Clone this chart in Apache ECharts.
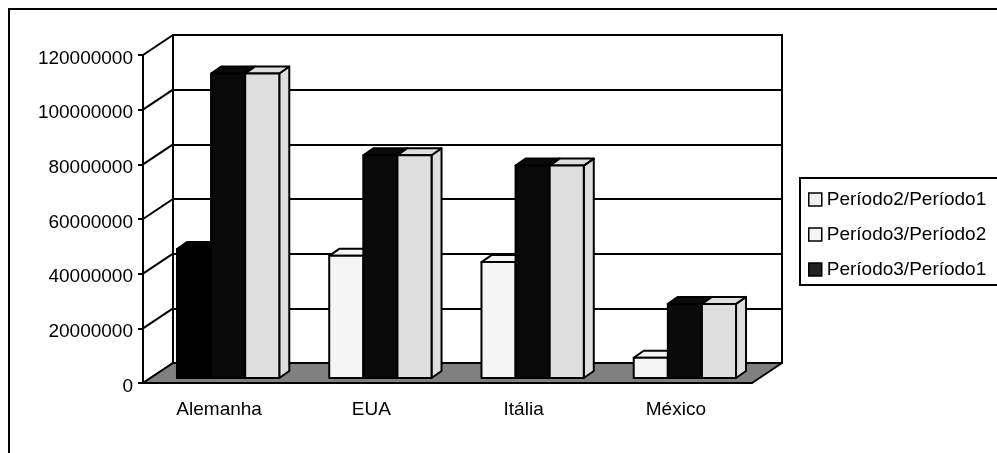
<!DOCTYPE html>
<html>
<head>
<meta charset="utf-8">
<script src="https://cdn.jsdelivr.net/npm/echarts@6/dist/echarts.min.js"></script>
<style>
  html, body { margin: 0; padding: 0; background: #fff; }
  #chart { width: 997px; height: 453px; }
</style>
</head>
<body>
<div id="chart"></div>
<script>
// Categories and values per ratio series
const categories = ['Alemanha', 'EUA', 'Itália', 'México'];
const periodo2_1 = [47200000, 44700000, 42400000, 7400000];
const periodo3_1 = [111400000, 81500000, 77700000, 27100000];
const periodo3_2 = [111400000, 81500000, 77700000, 27100000];
const yTicks = [0, 20000000, 40000000, 60000000, 80000000, 100000000, 120000000];

// 3D look: wall depth and bar box geometry
const DEPTH_X = 30, DEPTH_Y = -20;
const FRONT_DX = 9, FRONT_DY = -5;
const BOX_DX = 10, BOX_DY = -7;
const BAR_FRAC = 0.224;
const FONT = 'Liberation Sans, Arial, sans-serif';
const LINE = 2;

function barRenderer(slot) {
  return function (params, api) {
    const cat = api.value(0);
    const val = api.value(1);
    const base = api.coord([cat, 0]);
    const top = api.coord([cat, val]);
    const band = api.size([1, 0])[0];
    const w = band * BAR_FRAC;
    const x0 = base[0] - 1.5 * w + FRONT_DX + slot * w;
    const x1 = x0 + w;
    const yb = base[1] + FRONT_DY;
    const yt = top[1] + FRONT_DY;
    const color = api.visual('color');
    const st = { fill: color, stroke: '#000', lineWidth: LINE, lineJoin: 'round' };
    return {
      type: 'group',
      children: [
        { type: 'polygon', shape: { points: [[x1, yt], [x1 + BOX_DX, yt + BOX_DY], [x1 + BOX_DX, yb + BOX_DY], [x1, yb]] }, style: st },
        { type: 'polygon', shape: { points: [[x0, yt], [x1, yt], [x1 + BOX_DX, yt + BOX_DY], [x0 + BOX_DX, yt + BOX_DY]] }, style: st },
        { type: 'rect', shape: { x: x0, y: yt, width: w, height: yb - yt }, style: st }
      ]
    };
  };
}

function toData(arr) {
  return arr.map((v, i) => [i, v]);
}

const s1Data = toData(periodo2_1);
s1Data[0] = { value: [0, periodo2_1[0]], itemStyle: { color: '#000000' } };

const chart = echarts.init(document.getElementById('chart'), null, { renderer: 'canvas' });

chart.setOption({
  animation: false,
  backgroundColor: '#ffffff',
  textStyle: { fontFamily: FONT },
  graphic: [
    { type: 'rect', z: 0, shape: { x: 9, y: 9, width: 1000, height: 500 }, style: { fill: null, stroke: '#000', lineWidth: LINE } },
    { type: 'rect', z: 0, shape: { x: 800, y: 178, width: 210, height: 107 }, style: { fill: '#fff', stroke: '#000', lineWidth: LINE } }
  ],
  legend: {
    orient: 'vertical',
    left: 803,
    top: 185,
    itemWidth: 13,
    itemHeight: 13,
    itemGap: 16,
    icon: 'rect',
    selectedMode: false,
    itemStyle: { borderColor: '#000', borderWidth: 1.5 },
    textStyle: { fontSize: 19, color: '#000', fontFamily: FONT, lineHeight: 19 },
    data: [
      { name: 'Período2/Período1', itemStyle: { color: '#f0f0f0' } },
      { name: 'Período3/Período2', itemStyle: { color: '#f4f4f4' } },
      { name: 'Período3/Período1', itemStyle: { color: '#222222' } }
    ]
  },
  grid: [
    { left: 143, top: 55, width: 609, height: 328, show: false },
    { left: 143 + DEPTH_X, top: 55 + DEPTH_Y, width: 609, height: 328, show: true, borderColor: '#000', borderWidth: LINE, backgroundColor: '#fff' }
  ],
  xAxis: [
    {
      gridIndex: 0, type: 'category', data: categories, boundaryGap: true,
      axisLine: { lineStyle: { color: '#000', width: LINE } },
      axisTick: { length: 6, lineStyle: { color: '#000', width: LINE } },
      axisLabel: { fontSize: 19, color: '#000', margin: 17, fontFamily: FONT },
      splitLine: { show: false }
    },
    { gridIndex: 1, type: 'category', data: categories, show: false }
  ],
  yAxis: [
    {
      gridIndex: 0, type: 'value', min: 0, max: 120000000, interval: 20000000,
      axisLine: { show: true, lineStyle: { color: '#000', width: LINE } },
      axisTick: { show: true, length: 5, lineStyle: { color: '#000', width: LINE } },
      axisLabel: { fontSize: 19, color: '#000', margin: 10, fontFamily: FONT, verticalAlign: 'top', lineHeight: 7, formatter: v => String(v) },
      splitLine: { show: false }
    },
    {
      gridIndex: 1, type: 'value', min: 0, max: 120000000, interval: 20000000,
      axisLine: { show: false }, axisTick: { show: false }, axisLabel: { show: false },
      splitLine: { show: true, lineStyle: { color: '#000', width: LINE } }
    }
  ],
  tooltip: { show: false },
  series: [
    {
      // slanted side-wall lines linking front ticks to back-wall gridlines
      type: 'custom', xAxisIndex: 0, yAxisIndex: 0, z: 1, clip: false, silent: true,
      data: yTicks.map(v => [0, v]),
      encode: { x: 0, y: 1 },
      renderItem: function (params, api) {
        const y = api.coord([0, api.value(1)])[1];
        const x = params.coordSys.x;
        return { type: 'line', shape: { x1: x, y1: y, x2: x + DEPTH_X, y2: y + DEPTH_Y }, style: { stroke: '#000', lineWidth: LINE } };
      }
    },
    {
      // grey floor
      type: 'custom', xAxisIndex: 0, yAxisIndex: 0, z: 2, clip: false, silent: true,
      data: [[0, 0]],
      encode: { x: 0, y: 1 },
      renderItem: function (params, api) {
        const cs = params.coordSys;
        const y0 = api.coord([0, 0])[1];
        return {
          type: 'polygon',
          shape: { points: [[cs.x, y0], [cs.x + cs.width, y0], [cs.x + cs.width + DEPTH_X, y0 + DEPTH_Y], [cs.x + DEPTH_X, y0 + DEPTH_Y]] },
          style: { fill: '#808080', stroke: '#000', lineWidth: LINE, lineJoin: 'round' }
        };
      }
    },
    {
      name: 'Período2/Período1', type: 'custom', xAxisIndex: 0, yAxisIndex: 0, z: 3, clip: false,
      itemStyle: { color: '#f5f5f5' },
      data: s1Data, encode: { x: 0, y: 1 }, renderItem: barRenderer(0)
    },
    {
      name: 'Período3/Período1', type: 'custom', xAxisIndex: 0, yAxisIndex: 0, z: 3, clip: false,
      itemStyle: { color: '#0a0a0a' },
      data: toData(periodo3_1), encode: { x: 0, y: 1 }, renderItem: barRenderer(1)
    },
    {
      name: 'Período3/Período2', type: 'custom', xAxisIndex: 0, yAxisIndex: 0, z: 3, clip: false,
      itemStyle: { color: '#dedede' },
      data: toData(periodo3_2), encode: { x: 0, y: 1 }, renderItem: barRenderer(2)
    }
  ]
});
</script>
</body>
</html>
